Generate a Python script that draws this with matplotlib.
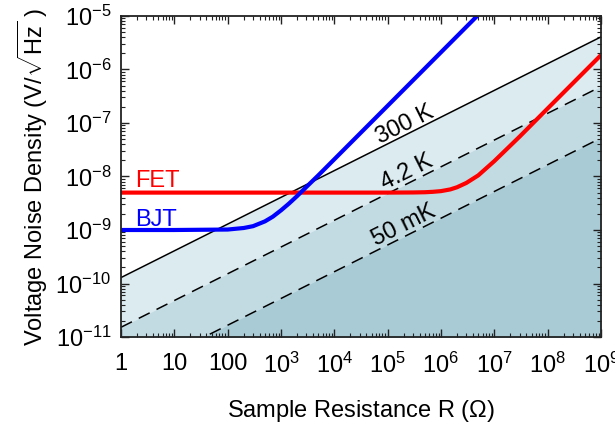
import numpy as np
import matplotlib.pyplot as plt
from matplotlib.ticker import FixedLocator, LogLocator, NullFormatter

plt.rcParams['font.family'] = ['Liberation Sans', 'DejaVu Sans']
plt.rcParams['mathtext.fontset'] = 'custom'
plt.rcParams['mathtext.rm'] = 'Liberation Sans'
plt.rcParams['mathtext.it'] = 'Liberation Sans:italic'

# Johnson noise lines: (R, V/sqrt(Hz)) at the two ends of the plotted range
r_ends = [1, 1e9]
v_300k = [1.29e-10, 4.07e-6]
v_4k = [1.52e-11, 4.8e-7]
v_50mk = [1.66e-12, 5.25e-8]

# amplifier noise curves
r_bjt = [1, 10, 100, 200, 300, 500, 700, 1e3, 1.4e3, 2e3, 3e3, 5e3, 1e4, 1e5, 1e6, 4.76e6]
v_bjt = [1e-9, 1e-9, 1.02e-9, 1.09e-9, 1.18e-9, 1.45e-9, 1.77e-9, 2.33e-9, 3.1e-9,
         4.3e-9, 6.4e-9, 1.05e-8, 2.1e-8, 2.1e-7, 2.1e-6, 1e-5]
r_fet = [1, 1e5, 3e5, 5e5, 7e5, 1e6, 1.5e6, 2e6, 3e6, 5e6, 1e7, 3e7, 1e8, 1e9]
v_fet = [5e-9, 5e-9, 5.03e-9, 5.08e-9, 5.17e-9, 5.33e-9, 5.74e-9, 6.3e-9, 7.6e-9,
         1.05e-8, 1.94e-8, 5.6e-8, 1.87e-7, 1.86e-6]

x_ticks = [1, 10, 100, 1e3, 1e4, 1e5, 1e6, 1e7, 1e8, 1e9]
x_labels = ['1', '10', '100'] + [r'$10^{%d}$' % k for k in range(3, 10)]
y_ticks = [1e-11, 1e-10, 1e-9, 1e-8, 1e-7, 1e-6, 1e-5]
y_labels = [r'$10^{%d}$' % k for k in range(-11, -4)]

fs = 17

fig = plt.figure(figsize=(6.15, 4.23), dpi=100)
ax = fig.add_axes([121 / 615, 1 - 337 / 423, 480 / 615, 321 / 423])

bottom = [1e-12, 1e-12]
ax.fill_between(r_ends, v_300k, bottom, color='#dcebf0', lw=0, zorder=1)
ax.fill_between(r_ends, v_4k, bottom, color='#c2dbe3', lw=0, zorder=1)
ax.fill_between(r_ends, v_50mk, bottom, color='#a9cbd6', lw=0, zorder=1)

ax.plot(r_ends, v_300k, color='black', lw=1.1, zorder=2)
ax.plot(r_ends, v_4k, color='black', lw=1.1, ls=(0, (8, 5)), zorder=2)
ax.plot(r_ends, v_50mk, color='black', lw=1.1, ls=(0, (8, 5)), zorder=2)

ax.plot(r_fet, v_fet, color='#ff0000', lw=3, solid_capstyle='butt', zorder=3)
ax.plot(r_bjt, v_bjt, color='#0000ff', lw=3, solid_capstyle='butt', zorder=3)

ax.set_xscale('log')
ax.set_yscale('log')
ax.set_xlim(1, 1e9)
ax.set_ylim(1e-11, 1e-5)

ax.xaxis.set_major_locator(FixedLocator(x_ticks))
ax.set_xticklabels(x_labels)
ax.yaxis.set_major_locator(FixedLocator(y_ticks))
ax.set_yticklabels(y_labels)
ax.xaxis.set_minor_locator(LogLocator(base=10, subs=np.arange(2, 10), numticks=20))
ax.yaxis.set_minor_locator(LogLocator(base=10, subs=np.arange(2, 10), numticks=20))
ax.xaxis.set_minor_formatter(NullFormatter())
ax.yaxis.set_minor_formatter(NullFormatter())
ax.tick_params(which='both', direction='in', top=True, right=True, labelsize=fs,
               color='#222222')
ax.tick_params(which='major', length=5.5, width=1)
ax.tick_params(which='minor', length=2.8, width=0.8)
ax.tick_params(axis='x', pad=11.5)
ax.tick_params(axis='y', pad=7)
for s in ax.spines.values():
    s.set_linewidth(1.3)
    s.set_color('#222222')
    s.set_zorder(5)

ax.set_xlabel(r'Sample Resistance R ($\Omega$)', fontsize=fs, labelpad=14)
ax.set_ylabel(r'Voltage Noise Density (V/$\sqrt{\mathrm{Hz}}$ )', fontsize=fs, labelpad=4)

ax.text(1.83, 6.4e-9, 'FET', color='#ff0000', fontsize=fs, ha='left', va='baseline')
ax.text(1.83, 1.2e-9, 'BJT', color='#0000ff', fontsize=fs, ha='left', va='baseline')

angle = np.degrees(np.arctan(0.5))
ax.text(2.1e5, 9.1e-8, '300 K', fontsize=fs, rotation=angle, ha='center', va='center', zorder=4)
ax.text(2.3e5, 1.2e-8, '4.2 K', fontsize=fs, rotation=angle, ha='center', va='center', zorder=4)
ax.text(2.0e5, 1.2e-9, '50 mK', fontsize=fs, rotation=angle, ha='center', va='center', zorder=4)

fig.savefig('out.png', dpi=100)
